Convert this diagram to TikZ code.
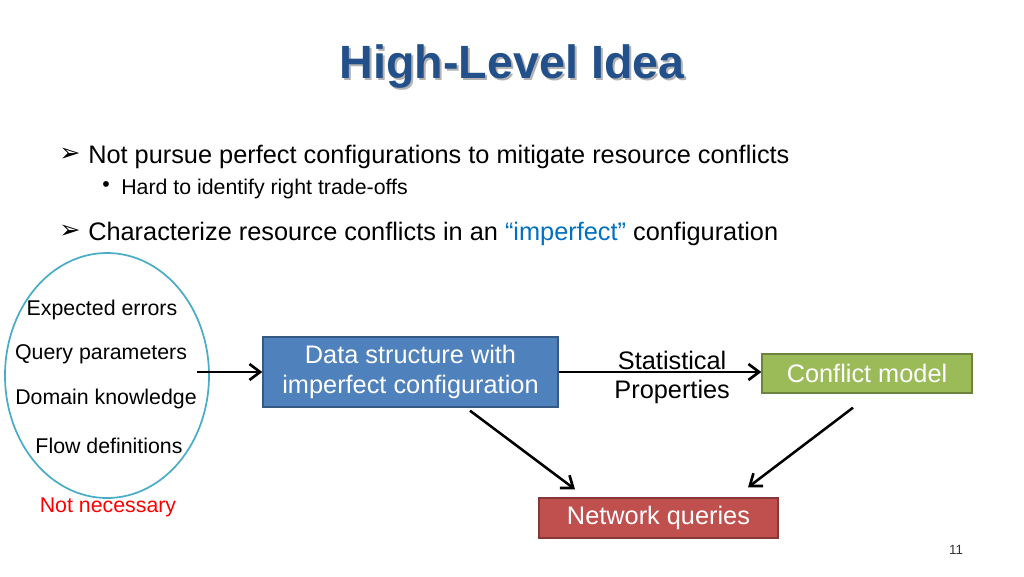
\documentclass[tikz,border=0pt]{standalone}
\usepackage{fontspec}
\setmainfont{Liberation Sans}
\newfontfamily\dingfont{DejaVu Sans}
\usetikzlibrary{arrows.meta, positioning, calc, shapes.geometric}

\definecolor{titleblue}{HTML}{22508A}
\definecolor{quoteblue}{HTML}{0070C0}
\definecolor{ovalteal}{HTML}{4BACC6}
\definecolor{boxblue}{HTML}{4F81BD}
\definecolor{boxgreen}{HTML}{9BBB59}
\definecolor{boxred}{HTML}{C0504D}

\begin{document}
\begin{tikzpicture}[x=0.75pt, y=-0.75pt,
  box/.style={draw=#1!70!black, fill=#1, text=white, line width=1pt, inner sep=0pt,
    align=center, font=\fontsize{19}{23}\selectfont},
  flow/.style={-{Straight Barb[length=8pt, width=12pt, line width=2pt]}, line width=1.9pt},
  point/.style={anchor=base west, inner sep=0pt, font=\fontsize{19}{22}\selectfont},
  item/.style={font=\fontsize{16}{19}\selectfont}]
  \useasboundingbox (0,0) rectangle (1024,576);

  % 見出し
  \node[text=black!30, font=\fontsize{35}{40}\selectfont\bfseries] at (514,69) {High-Level Idea};
  \node[text=titleblue, font=\fontsize{35}{40}\selectfont\bfseries] (title) at (512,67) {High-Level Idea};

  % 箇条書き
  \node[font=\dingfont\fontsize{19}{22}\selectfont] (b1) at (70,155) {➢};
  \node[point] (t1) at (88,163) {Not pursue perfect configurations to mitigate resource conflicts};
  \node[font=\fontsize{16}{19}\selectfont] (b2) at (106,187) {•};
  \node[point, font=\fontsize{16}{19}\selectfont] (t2) at (121,194) {Hard to identify right trade-offs};
  \node[font=\dingfont\fontsize{19}{22}\selectfont] (b3) at (70,232) {➢};
  \node[point] (t3) at (88,240) {Characterize resource conflicts in an \textcolor{quoteblue}{“imperfect”} configuration};

  % 入力の楕円
  \node[ellipse, draw=ovalteal, line width=1.3pt, inner sep=0pt,
        minimum width=153pt, minimum height=183.75pt] (oval) at (107,375.5) {};
  \foreach \name/\txt/\x/\y in {e1/Expected errors/102/310, e2/Query parameters/101/354,
                                e3/Domain knowledge/106/399, e4/Flow definitions/109/446} {
    \node[item] (\name) at (\x,\y) {\txt};
  }
  \node[item, text=red] (nn) at (108,507) {Not necessary};

  % 箱
  \node[box=boxblue, minimum width=221.25pt, minimum height=52.5pt] (data) at (410.5,372)
    {\raisebox{-2pt}{\parbox{215pt}{\centering Data structure with\\imperfect configuration}}};
  \node[box=boxgreen, minimum width=157.5pt, minimum height=29.25pt] (model) at (867,373.5) {Conflict model};
  \node[box=boxred, minimum width=179.25pt, minimum height=30pt] (query) at (658.5,518)
    {\raisebox{-2pt}{Network queries}};

  % 矢印
  \coordinate (in) at (197,372);
  \draw[flow] (in) -- (data.west |- in);
  \draw[flow] (data.east) -- (data.east -| model.west)
    node[pos=0.56, yshift=-4pt, align=center, font=\fontsize{19}{22}\selectfont] {Statistical\\Properties};
  \draw[flow] ($(data.south)+(59.5,3)$) -- ($(query.north)+(-83.5,-8)$);
  \draw[flow] ($(model.south)+(-14,14)$) -- ($(query.north)+(89.5,-10)$);

  % ページ番号
  \node[font=\fontsize{10}{12}\selectfont, text=black!80] (page) at (956,550) {11};
\end{tikzpicture}
\end{document}
